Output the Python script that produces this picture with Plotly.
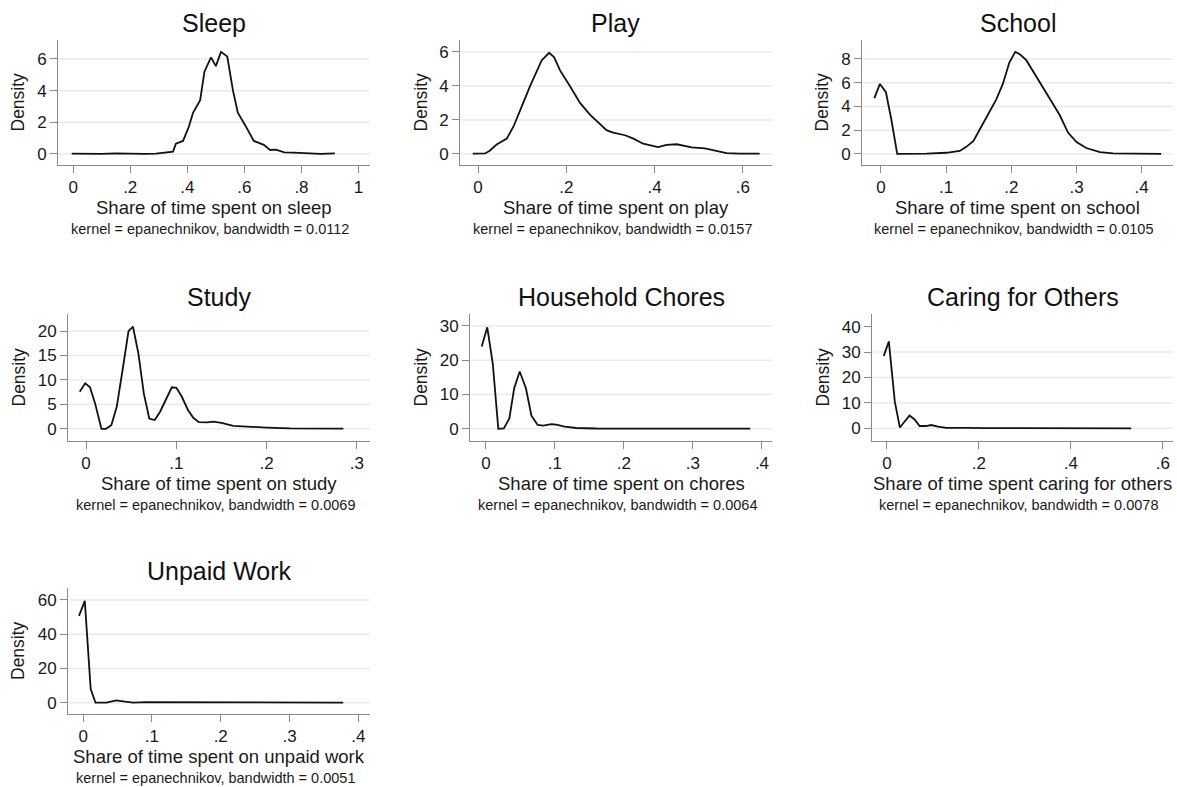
import plotly.graph_objects as go

W, H = 1177, 787
FONT = "Liberation Sans, Arial, sans-serif"

# ---- panel text -------------------------------------------------------------
titles = ["Sleep", "Play", "School", "Study", "Household Chores",
          "Caring for Others", "Unpaid Work"]
xtitles = ["Share of time spent on sleep", "Share of time spent on play",
           "Share of time spent on school", "Share of time spent on study",
           "Share of time spent on chores", "Share of time spent caring for others",
           "Share of time spent on unpaid work"]
bandwidths = ["0.0112", "0.0157", "0.0105", "0.0069", "0.0064", "0.0078", "0.0051"]

# ---- kernel density estimates ----------------------------------------------
sleep_x = [-0.005, 0.05, 0.1, 0.15, 0.2, 0.25, 0.29, 0.31, 0.35, 0.36, 0.385,
           0.405, 0.42, 0.445, 0.46, 0.483, 0.50, 0.518, 0.54, 0.56, 0.577,
           0.603, 0.633, 0.668, 0.69, 0.71, 0.74, 0.773, 0.82, 0.867, 0.917]
sleep_y = [0.02, 0.0, 0.0, 0.03, 0.0, 0.0, 0.02, 0.05, 0.15, 0.65, 0.82,
           1.7, 2.6, 3.4, 5.2, 6.1, 5.55, 6.45, 6.15, 4.0, 2.6,
           1.8, 0.82, 0.57, 0.25, 0.27, 0.1, 0.08, 0.02, 0.0, 0.03]

play_x = [-0.012, 0.016, 0.027, 0.042, 0.065, 0.08, 0.099, 0.118, 0.144, 0.161,
          0.172, 0.186, 0.208, 0.231, 0.254, 0.291, 0.306, 0.333, 0.352, 0.374,
          0.408, 0.427, 0.45, 0.484, 0.514, 0.54, 0.563, 0.593, 0.638]
play_y = [0.02, 0.03, 0.2, 0.55, 0.9, 1.6, 2.8, 4.0, 5.5, 5.95,
          5.7, 4.9, 4.0, 3.0, 2.3, 1.4, 1.25, 1.1, 0.9, 0.6,
          0.4, 0.53, 0.57, 0.38, 0.33, 0.2, 0.05, 0.02, 0.02]

school_x = [-0.010, -0.0015, 0.0077, 0.016, 0.025, 0.05, 0.07, 0.1, 0.121, 0.131,
            0.142, 0.152, 0.162, 0.177, 0.187, 0.197, 0.206, 0.213, 0.223, 0.234,
            0.249, 0.262, 0.274, 0.287, 0.3, 0.315, 0.336, 0.356, 0.381, 0.43]
school_y = [4.7, 5.9, 5.2, 2.9, 0.0, 0.0, 0.02, 0.1, 0.25, 0.6,
            1.1, 2.1, 3.1, 4.6, 5.9, 7.7, 8.6, 8.4, 7.9, 6.9,
            5.6, 4.3, 3.3, 1.8, 1.0, 0.5, 0.15, 0.05, 0.03, 0.0]

study_x = [-0.007, -0.001, 0.0044, 0.01, 0.017, 0.022, 0.028, 0.034, 0.041, 0.047,
           0.052, 0.058, 0.064, 0.07, 0.076, 0.082, 0.089, 0.095, 0.1, 0.106,
           0.113, 0.119, 0.125, 0.134, 0.141, 0.15, 0.163, 0.182, 0.2, 0.226, 0.285]
study_y = [7.6, 9.3, 8.5, 5.2, 0.0, 0.0, 0.75, 4.5, 12.7, 20.0,
           20.9, 15.4, 7.2, 2.1, 1.8, 3.5, 6.2, 8.5, 8.4, 6.6,
           3.8, 2.2, 1.35, 1.3, 1.45, 1.2, 0.6, 0.35, 0.25, 0.1, 0.05]

chores_x = [-0.006, 0.002, 0.01, 0.018, 0.026, 0.034, 0.041, 0.049, 0.058, 0.066,
            0.075, 0.083, 0.095, 0.102, 0.114, 0.131, 0.16, 0.383]
chores_y = [24.0, 29.6, 19.0, 0.0, 0.1, 3.0, 11.8, 16.7, 11.8, 3.8,
            1.1, 0.9, 1.3, 1.2, 0.6, 0.2, 0.05, 0.0]

caring_x = [-0.007, 0.004, 0.017, 0.028, 0.038, 0.049, 0.06, 0.071, 0.085, 0.096,
            0.111, 0.129, 0.172, 0.216, 0.531]
caring_y = [28.5, 34.2, 10.5, 0.3, 2.6, 5.0, 3.5, 0.9, 0.9, 1.3,
            0.7, 0.15, 0.15, 0.05, 0.0]

unpaid_x = [-0.006, 0.0024, 0.011, 0.018, 0.034, 0.048, 0.061, 0.073, 0.092,
            0.116, 0.141, 0.378]
unpaid_y = [50.7, 59.5, 8.0, 0.0, 0.0, 1.4, 0.6, 0.1, 0.3, 0.3, 0.1, 0.05]

series_x = [sleep_x, play_x, school_x, study_x, chores_x, caring_x, unpaid_x]
series_y = [sleep_y, play_y, school_y, study_y, chores_y, caring_y, unpaid_y]

# ---- axis ticks ---------------------------------------------------------------
xtick_vals = [[0, 0.2, 0.4, 0.6, 0.8, 1.0], [0, 0.2, 0.4, 0.6],
              [0, 0.1, 0.2, 0.3, 0.4], [0, 0.1, 0.2, 0.3],
              [0, 0.1, 0.2, 0.3, 0.4], [0, 0.2, 0.4, 0.6],
              [0, 0.1, 0.2, 0.3, 0.4]]
xtick_text = [["0", ".2", ".4", ".6", ".8", "1"], ["0", ".2", ".4", ".6"],
              ["0", ".1", ".2", ".3", ".4"], ["0", ".1", ".2", ".3"],
              ["0", ".1", ".2", ".3", ".4"], ["0", ".2", ".4", ".6"],
              ["0", ".1", ".2", ".3", ".4"]]
ytick_vals = [[0, 2, 4, 6], [0, 2, 4, 6], [0, 2, 4, 6, 8], [0, 5, 10, 15, 20],
              [0, 10, 20, 30], [0, 10, 20, 30, 40], [0, 20, 40, 60]]

# ---- layout geometry (pixels: left, top, right, bottom) ----------------------
boxes = [(58, 40, 370, 165), (460, 40, 772, 165), (862, 40, 1173, 165),
         (68, 314, 370, 441), (470, 314, 772, 441), (872, 314, 1173, 441),
         (68, 588, 370, 714)]
xranges = [[-0.053, 1.04], [-0.041, 0.666], [-0.029, 0.448], [-0.02, 0.3145],
           [-0.023, 0.4145], [-0.0326, 0.622], [-0.022, 0.417]]
yranges = [[-0.7, 7.2], [-0.65, 6.7], [-0.93, 9.6], [-2.5, 23.5],
           [-3.6, 33.5], [-5, 45], [-6.6, 67]]
ylab_offset = [40, 39, 40, 50, 50, 50, 50]
skip_top_grid = [False, False, False, False, False, True, False]

AXIS_COL = "#8a8a8a"
GRID_COL = "#eaeaea"
TEXT_COL = "#1a1a1a"

fig = go.Figure()
layout = dict(
    width=W, height=H,
    margin=dict(l=0, r=0, t=0, b=0),
    paper_bgcolor="white", plot_bgcolor="white",
    showlegend=False,
    font=dict(family=FONT, color=TEXT_COL),
)
annotations = []
shapes = []


def px_x(p):
    return p / W


def px_y(p):
    return 1 - p / H


for i in range(7):
    n = "" if i == 0 else str(i + 1)
    left, top, right, bottom = boxes[i]
    fig.add_trace(go.Scatter(
        x=series_x[i], y=series_y[i], mode="lines",
        line=dict(color="#111111", width=1.8),
        xaxis="x" + n, yaxis="y" + n, hoverinfo="skip",
    ))
    layout["xaxis" + n] = dict(
        domain=[px_x(left), px_x(right)], anchor="y" + n,
        range=xranges[i], showgrid=False, zeroline=False,
        showline=True, linecolor=AXIS_COL, linewidth=1,
        ticks="outside", ticklen=7, tickcolor=AXIS_COL, tickwidth=1,
        tickvals=xtick_vals[i], ticktext=xtick_text[i],
        tickfont=dict(size=17, family=FONT, color=TEXT_COL),
    )
    layout["yaxis" + n] = dict(
        domain=[px_y(bottom), px_y(top)], anchor="x" + n,
        range=yranges[i], showgrid=False, zeroline=False,
        showline=True, linecolor=AXIS_COL, linewidth=1,
        ticks="outside", ticklen=7, tickcolor=AXIS_COL, tickwidth=1,
        tickvals=ytick_vals[i],
        tickfont=dict(size=17, family=FONT, color=TEXT_COL),
    )
    # horizontal gridlines at the y labels
    grid_vals = ytick_vals[i][:-1] if skip_top_grid[i] else ytick_vals[i]
    for v in grid_vals:
        shapes.append(dict(
            type="line", layer="below",
            xref="x" + n + " domain", x0=0.004, x1=1,
            yref="y" + n, y0=v, y1=v,
            line=dict(color=GRID_COL, width=1.5),
        ))
    cx = (left + right) / 2
    annotations.append(dict(
        text=titles[i], xref="paper", yref="paper",
        x=px_x(cx), y=px_y(top - 17), xanchor="center", yanchor="middle",
        showarrow=False, font=dict(size=25, family=FONT, color="#111111"),
    ))
    annotations.append(dict(
        text=xtitles[i], xref="paper", yref="paper",
        x=px_x(cx), y=px_y(bottom + 42), xanchor="center", yanchor="middle",
        showarrow=False, font=dict(size=18.5, family=FONT, color=TEXT_COL),
    ))
    annotations.append(dict(
        text="kernel = epanechnikov, bandwidth = " + bandwidths[i],
        xref="paper", yref="paper",
        x=px_x(cx - 4), y=px_y(bottom + 64), xanchor="center", yanchor="middle",
        showarrow=False, font=dict(size=14.5, family=FONT, color=TEXT_COL),
    ))
    annotations.append(dict(
        text="Density", xref="paper", yref="paper", textangle=-90,
        x=px_x(left - ylab_offset[i]), y=px_y((top + bottom) / 2),
        xanchor="center", yanchor="middle",
        showarrow=False, font=dict(size=17.5, family=FONT, color=TEXT_COL),
    ))

layout["annotations"] = annotations
layout["shapes"] = shapes
fig.update_layout(**layout)
fig.write_html("out.html")
